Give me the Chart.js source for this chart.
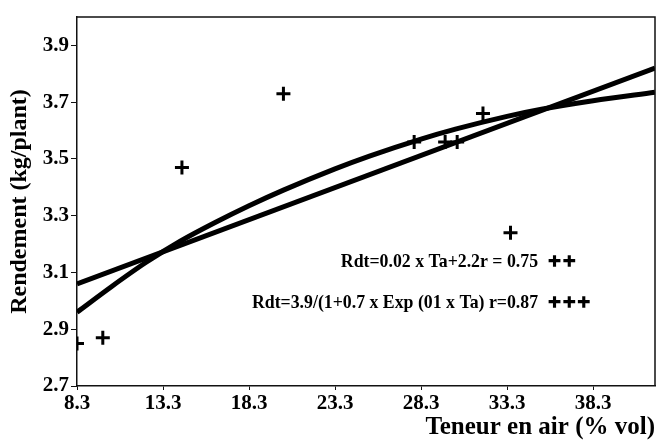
<!DOCTYPE html>
<html>
<head>
<meta charset="utf-8">
<script src="https://cdn.jsdelivr.net/npm/chart.js@4/dist/chart.umd.min.js"></script>
<style>
  body { margin: 0; background: #fff; }
</style>
</head>
<body>
<canvas id="myChart" width="665" height="444"></canvas>
<script>
// measured points (+)
var airX = [8.3, 9.8, 14.4, 20.3, 27.9, 29.7, 30.4, 31.9, 33.5];
var rdtY = [2.85, 2.87, 3.47, 3.73, 3.56, 3.56, 3.56, 3.66, 3.24];

// linear fit
var linX = [8.3, 41.9];
var linY = [3.06, 3.82];

// logistic fit
var curveX = [8.3, 10.3, 12.3, 14.3, 16.3, 18.3, 20.3, 23.3, 25.3, 28.3, 30.3, 33.3, 35.3, 38.3, 41.9];
var curveY = [2.96, 3.05, 3.135, 3.21, 3.275, 3.335, 3.39, 3.465, 3.51, 3.57, 3.605, 3.65, 3.675, 3.705, 3.735];

// tick labels
var xTicks = [8.3, 13.3, 18.3, 23.3, 28.3, 33.3, 38.3];
var yTicks = [2.7, 2.9, 3.1, 3.3, 3.5, 3.7, 3.9];

var eqLin = "Rdt=0.02 x Ta+2.2r = 0.75";
var eqLog = "Rdt=3.9/(1+0.7 x Exp (01 x Ta) r=0.87";
var sigLin = "++";
var sigLog = "+++";

var serif = "'Liberation Serif', 'DejaVu Serif', serif";

function pairs(xs, ys){
  return xs.map(function(x, i){ return {x: x, y: ys[i]}; });
}

// box round the plot + equation labels
var framePlugin = {
  id: 'frame',
  afterDraw: function(chart){
    var c = chart.ctx, a = chart.chartArea;
    var sx = chart.scales.x, sy = chart.scales.y;
    c.save();
    c.strokeStyle = '#111';
    c.lineWidth = 1.5;
    c.beginPath();
    c.moveTo(a.left, a.top);
    c.lineTo(a.right, a.top);
    c.lineTo(a.right, a.bottom);
    c.stroke();

    c.fillStyle = '#000';
    c.strokeStyle = '#000';
    c.textBaseline = 'alphabetic';
    c.font = 'bold 17.8px ' + serif;
    c.textAlign = 'right';
    c.fillText(eqLin, sx.getPixelForValue(35.1), sy.getPixelForValue(3.121));
    c.fillText(eqLog, sx.getPixelForValue(35.1), sy.getPixelForValue(2.976));
    // the ++ / +++ marks are heavier in the original
    c.font = 'bold 22px ' + serif;
    c.textAlign = 'left';
    c.letterSpacing = '2px';
    c.lineWidth = 1.6;
    c.fillText(sigLin, sx.getPixelForValue(35.7), sy.getPixelForValue(3.115));
    c.strokeText(sigLin, sx.getPixelForValue(35.7), sy.getPixelForValue(3.115));
    c.fillText(sigLog, sx.getPixelForValue(35.7), sy.getPixelForValue(2.970));
    c.strokeText(sigLog, sx.getPixelForValue(35.7), sy.getPixelForValue(2.970));
    c.restore();
  }
};

var ctx = document.getElementById("myChart");

var chart = new Chart(ctx, {
  type: 'scatter',
  data: {
    datasets: [{
      label: 'points',
      data: pairs(airX, rdtY),
      pointStyle: 'cross',
      pointRadius: 7,
      pointBorderWidth: 3,
      borderColor: '#000',
      backgroundColor: '#000',
      showLine: false
    },
    {
      label: 'linear',
      data: pairs(linX, linY),
      showLine: true,
      borderColor: '#000',
      borderWidth: 5,
      pointRadius: 0
    },
    {
      label: 'logistic',
      data: pairs(curveX, curveY),
      showLine: true,
      borderColor: '#000',
      borderWidth: 5,
      pointRadius: 0,
      cubicInterpolationMode: 'monotone'
    }]
  },
  options: {
    responsive: false,
    animation: false,
    layout: { padding: { top: 17, right: 2, left: 0, bottom: 0 } },
    plugins: {
      legend: { display: false },
      tooltip: { enabled: false }
    },
    scales: {
      x: {
        type: 'linear',
        min: 8.3,
        max: 41.9,
        afterBuildTicks: function(axis){
          axis.ticks = xTicks.map(function(v){ return {value: v}; });
        },
        afterFit: function(axis){ axis.height = 58; },
        grid: { display: true, drawOnChartArea: false, tickLength: 4, color: '#111' },
        border: { display: true, color: '#111', width: 1.5 },
        ticks: {
          color: '#000',
          padding: 1,
          maxRotation: 0,
          font: { family: serif, size: 21, weight: 'bold' },
          callback: function(v){ return v.toFixed(1); }
        },
        title: {
          display: true,
          text: 'Teneur en air (% vol)',
          align: 'end',
          color: '#000',
          padding: { top: 0, bottom: 1 },
          font: { family: serif, size: 25, weight: 'bold' }
        }
      },
      y: {
        min: 2.7,
        max: 4.0,
        afterBuildTicks: function(axis){
          axis.ticks = yTicks.map(function(v){ return {value: v}; });
        },
        afterFit: function(axis){ axis.width = 77; },
        grid: { display: true, drawOnChartArea: false, tickLength: 6, color: '#111' },
        border: { display: true, color: '#111', width: 1.5 },
        ticks: {
          color: '#000',
          padding: 2,
          font: { family: serif, size: 21, weight: 'bold' },
          callback: function(v){ return v.toFixed(1); }
        },
        title: {
          display: true,
          text: 'Rendement (kg/plant)',
          color: '#000',
          padding: { top: 5, bottom: 0 },
          font: { family: serif, size: 24, weight: 'bold' }
        }
      }
    }
  },
  plugins: [framePlugin]
});
</script>
</body>
</html>
